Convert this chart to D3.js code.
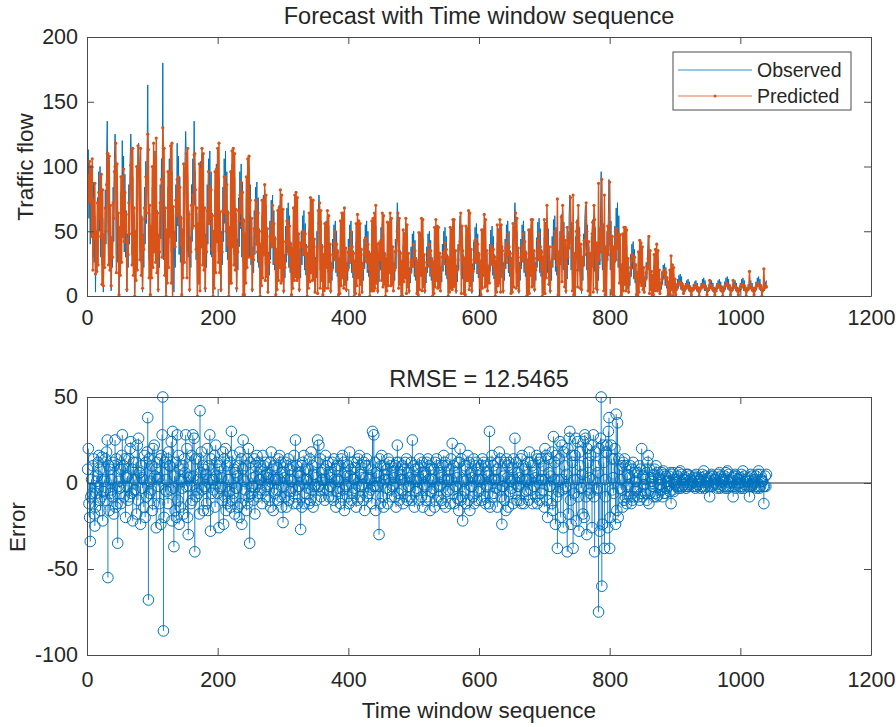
<!DOCTYPE html>
<html>
<head>
<meta charset="utf-8">
<script src="https://cdn.jsdelivr.net/npm/d3@7"></script>
<style>
  body { margin: 0; background: #fff; }
  text { font-family: "Liberation Sans", Arial, sans-serif; fill: #262626; }
</style>
</head>
<body>
<svg id="chart" width="896" height="727"></svg>
<script>
// observed traffic flow, one line per 12-step daily cycle (steps 1..1040)
var observed = [
  95,113,60,84,40,92,48,100,30,88,26,62,
  3,44,20,76,36,96,50,100,30,86,24,60,
  3,48,24,82,40,104,135,55,34,92,28,64,
  4,46,22,84,42,106,125,104,32,90,26,62,
  2,50,24,80,42,120,54,108,34,94,30,66,
  3,48,22,86,40,104,125,106,32,92,28,64,
  2,46,24,82,42,106,118,104,34,90,26,62,
  3,48,22,84,40,104,56,108,163,45,28,64,
  2,50,24,84,42,106,56,112,34,96,30,66,
  3,48,22,86,44,106,58,180,28,94,28,64,
  2,46,24,84,40,106,56,112,34,96,28,66,
  3,50,22,86,42,118,54,108,32,92,26,62,
  2,48,24,84,40,104,127,108,34,94,30,66,
  3,46,22,86,42,106,58,135,70,96,28,64,
  2,50,24,84,46,104,56,110,34,94,28,66,
  3,48,22,86,40,106,58,112,32,96,30,64,
  2,46,22,82,40,102,54,108,34,92,28,62,
  3,50,24,84,42,106,56,112,34,96,28,66,
  2,48,22,82,40,102,54,108,32,92,26,64,
  3,44,20,76,38,96,52,102,30,88,26,60,
  2,44,20,76,36,94,50,100,30,86,24,58,
  3,38,18,66,32,84,44,88,26,76,22,52,
  2,36,16,62,30,78,42,82,24,70,20,50,
  2,34,16,58,28,74,40,78,24,66,20,46,
  3,32,14,56,26,70,38,74,22,64,18,44,
  2,32,14,54,26,68,36,72,22,62,18,42,
  2,34,16,56,28,70,40,76,22,64,20,46,
  3,30,14,50,24,62,34,66,20,56,16,40,
  2,30,14,52,25,66,36,70,22,60,18,42,
  2,30,14,50,27,64,78,68,20,58,18,40,
  3,28,12,46,22,58,32,62,18,54,16,38,
  2,26,12,44,21,55,30,58,18,50,15,36,
  2,26,12,46,22,56,30,60,18,52,15,36,
  3,26,12,44,21,55,30,58,18,50,14,35,
  2,24,11,42,20,53,28,56,17,48,14,34,
  2,26,12,44,21,55,30,58,18,50,15,35,
  3,28,12,46,34,58,32,62,18,54,16,38,
  2,24,11,42,20,53,28,56,17,48,14,34,
  2,26,12,45,22,57,30,60,18,52,15,36,
  3,26,12,44,21,55,72,58,18,50,14,35,
  2,23,10,39,19,49,26,52,16,45,13,31,
  2,22,10,38,18,48,25,50,15,43,12,30,
  3,23,10,39,19,49,26,52,16,45,13,31,
  2,22,10,38,18,48,25,50,15,43,12,30,
  2,23,10,39,19,49,26,52,16,45,13,31,
  3,23,11,40,19,50,27,53,16,46,13,32,
  2,24,11,41,20,52,28,55,17,47,14,33,
  2,24,11,40,20,51,62,54,16,46,13,32,
  3,25,11,42,20,53,28,56,17,48,14,34,
  2,25,11,42,20,53,28,56,17,48,14,34,
  2,24,11,41,20,52,28,55,17,47,14,33,
  3,24,11,40,19,51,27,54,16,46,13,32,
  2,24,11,41,20,52,28,55,17,47,14,33,
  2,26,12,44,21,55,29,58,18,50,15,35,
  3,26,12,44,21,55,72,58,18,50,14,35,
  2,26,12,44,21,55,29,58,18,50,15,35,
  2,24,11,41,20,52,28,55,17,47,14,33,
  3,26,12,45,22,57,30,60,18,52,15,36,
  2,26,12,45,22,57,30,60,18,52,15,36,
  2,27,12,46,22,59,31,62,19,53,16,37,
  3,29,13,50,24,63,33,66,20,57,17,40,
  2,29,13,50,24,63,78,66,20,57,16,40,
  3,27,12,46,28,59,31,62,19,53,16,37,
  2,28,12,48,23,60,70,64,20,55,16,38,
  3,27,12,46,22,59,31,62,19,53,16,37,
  2,28,12,48,24,60,96,30,20,56,16,40,
  3,30,14,50,28,62,90,50,20,58,16,42,
  3,32,14,54,26,68,36,72,22,62,18,44,
  2,20,9,34,16,43,23,45,14,39,11,27,
  2,18,8,32,15,40,21,42,13,36,10,25,
  2,15,7,26,13,33,18,35,28,30,9,21,
  2,15,7,26,13,33,45,34,10,29,8,20,
  2,14,6,24,12,30,16,32,10,28,8,19,
  1,11,5,19,9,24,13,25,8,22,6,15,
  1,9,4,15,7,19,10,20,6,17,5,12,
  1,8,4,13,6,16,9,17,5,15,4,10,
  1,6,3,10,5,12,7,13,4,11,3,8,
  1,5,3,9,4,11,6,12,4,10,3,7,
  1,6,3,10,5,13,7,14,4,12,4,8,
  1,5,3,9,4,11,6,12,4,10,3,7,
  1,6,3,10,5,12,7,13,4,11,3,8,
  1,7,3,11,5,14,8,15,5,13,4,9,
  1,5,3,9,4,11,6,12,4,10,3,7,
  1,6,3,10,5,13,7,14,4,12,4,8,
  1,5,3,9,4,11,6,12,4,10,3,7,
  1,7,3,11,5,14,8,15,5,13,4,9,
  1,5,3,9,4,11,6,12
];

// forecast error (observed - predicted), same steps
var errors = [
  8,20,-12,-20,-34,-8,2,-6,10,14,-18,-25,
  -14,-6,1,4,12,16,-10,8,-16,-8,15,-22,
  -5,1,2,14,-10,18,25,-55,10,-16,8,-6,
  -4,2,-8,12,-18,10,25,-14,14,-12,-35,-2,
  1,-3,8,-12,16,28,8,10,-8,14,-20,3,
  -2,4,-10,14,-8,20,24,-6,8,-22,12,-4,
  2,-4,12,-18,22,-10,26,6,6,-24,10,3,
  -3,2,-14,16,-20,12,-8,18,38,-68,14,-6,
  1,-4,10,-16,20,-12,22,4,8,-26,12,2,
  -2,3,-12,14,-24,16,28,50,-86,-20,12,-4,
  2,-5,14,-12,18,10,10,-4,24,-22,30,-3,
  -37,4,-16,12,-20,28,-10,16,-24,8,-14,2,
  1,-3,10,-18,14,6,28,-2,20,-20,-30,3,
  -2,4,-12,16,-10,28,4,26,-40,14,-8,-4,
  2,-6,14,-18,42,6,18,-4,10,-16,8,-2,
  -3,5,-12,20,-16,10,2,28,-28,14,-6,2,
  2,-4,16,-14,22,4,12,-6,8,-26,10,-3,
  -2,3,-10,18,-24,14,-8,20,-16,10,-12,2,
  2,-5,12,-14,30,-10,16,-6,8,-18,6,-3,
  -3,4,-14,10,-20,18,-12,14,-24,8,25,2,
  1,-4,10,-16,14,-12,20,-8,-35,12,-6,-2,
  -2,3,-10,14,-18,10,4,16,-8,12,-6,2,
  2,-4,8,-12,16,4,10,-4,12,-8,5,-2,
  -1,3,-10,12,-14,18,2,8,-16,10,-6,2,
  2,-4,9,-10,14,2,16,-8,12,-14,6,-23,
  -2,3,-8,12,-14,10,2,14,-10,8,-5,2,
  1,-3,10,-12,16,-8,25,-4,10,-12,6,-2,
  -2,4,-27,10,-14,12,2,16,-12,8,-6,2,
  2,-3,8,-12,14,-10,18,-4,10,-14,5,-2,
  -1,3,-10,12,25,-2,22,-4,14,-8,6,2,
  2,-4,8,-10,16,2,10,-4,12,-8,5,-2,
  -2,3,-8,12,-10,14,2,8,-14,10,-5,2,
  1,-3,10,-12,14,-8,16,-4,12,-16,6,-1,
  -2,4,-8,10,-12,18,4,8,-10,12,-6,2,
  2,-3,9,-14,12,-10,14,-2,16,-8,5,-2,
  -1,3,-10,12,-16,10,3,14,-8,10,-6,2,
  3,-4,8,-12,30,-2,28,-2,12,-16,6,-2,
  -2,4,-30,14,-12,10,16,-8,10,-14,5,2,
  2,-3,8,-12,14,2,12,-4,10,-8,6,-2,
  -1,3,-8,10,-14,12,22,-6,12,-10,5,2,
  2,-4,10,-12,8,2,12,-8,14,-10,6,-2,
  -2,3,-8,12,-10,25,2,10,-14,8,-5,2,
  1,-3,9,-10,14,2,10,-8,12,-14,6,-1,
  -2,4,-10,12,-8,14,2,10,-16,8,-5,2,
  2,-3,8,-14,12,-10,14,-2,10,-8,6,-2,
  -1,3,-10,10,-12,16,2,12,-14,10,-5,2,
  2,-4,8,-12,14,2,23,-4,10,-12,6,-2,
  -2,3,-9,12,-16,12,20,-10,14,-8,-22,2,
  1,-4,10,-12,8,2,16,-10,12,-16,6,-2,
  -2,3,-8,14,-12,10,2,12,-10,8,-5,2,
  2,-3,10,-10,14,2,12,-8,10,-12,6,-2,
  -1,4,-12,30,-14,12,2,16,-8,10,-6,2,
  2,-3,8,-14,12,2,18,-4,14,-8,-24,-2,
  -2,4,-10,12,-16,14,3,10,-14,12,-5,2,
  1,-3,9,-12,14,2,26,-6,12,-10,6,-2,
  -2,3,-10,14,-12,16,2,10,-12,8,-5,2,
  2,-4,12,-10,18,2,12,-4,10,-12,6,-2,
  -2,3,-8,16,-12,14,2,12,-10,14,-6,2,
  2,-4,10,-14,20,2,16,-10,-20,14,6,-2,
  -2,4,-12,18,-16,27,2,12,-24,16,-8,-38,
  2,-5,14,24,-20,2,22,-4,-26,18,10,-3,
  -2,5,-40,20,-18,26,30,-10,-24,16,12,-38,
  2,-6,16,26,-22,2,24,-8,-28,18,10,-3,
  -3,5,-18,24,-20,28,26,-8,-30,20,12,-4,
  3,-6,16,22,-26,2,28,-8,-40,18,10,-4,
  -3,6,-75,20,-28,26,50,-60,-24,22,12,-38,
  2,-8,18,22,-26,30,38,-38,-20,22,14,-4,
  3,-6,14,20,-24,40,-16,35,-20,14,8,-3,
  2,-4,10,-14,12,-10,14,-8,10,-12,5,-2,
  -1,3,-8,10,-12,8,-10,12,-8,6,-4,1,
  1,-3,6,-8,10,-10,8,-6,20,-8,4,-1,
  -1,2,-6,8,-10,12,16,-12,8,-6,3,1,
  1,-2,5,-8,8,-6,10,-8,6,-7,3,-1,
  -1,2,-4,6,-8,7,-6,5,-6,4,-3,1,
  1,-2,4,-5,6,-12,5,-4,6,-5,2,-1,
  0,2,-2,4,-3,6,-2,7,-3,5,-2,2,
  -1,2,-2,3,-3,5,-2,5,-2,4,-1,2,
  0,1,-2,3,-2,4,-3,5,-2,3,-1,1,
  1,2,-3,3,-2,5,-2,7,-3,4,-2,2,
  0,1,-2,3,-8,4,-2,5,-2,4,-1,2,
  0,2,-1,3,-3,5,-2,6,-3,4,-1,2,
  1,2,-2,4,-3,6,-2,7,-3,5,-2,2,
  0,1,-2,3,-8,4,-2,5,-3,4,-1,2,
  0,2,-2,3,-3,5,-2,7,-3,4,-1,2,
  1,1,-2,3,-2,-8,-2,5,-2,4,-1,1,
  0,2,-2,4,-3,5,-2,7,-3,5,-2,2,
  1,1,-2,-12,-2,4,-2,5
];

var xTicks = [0, 200, 400, 600, 800, 1000, 1200];
var flowTicks = [0, 50, 100, 150, 200];
var errTicks = [-100, -50, 0, 50];
var seriesNames = ['Observed', 'Predicted'];
var rmse = '12.5465';

var blue = '#0072BD', orange = '#D95319', axisColor = '#4a4a4a';

// predicted = observed - error
var predicted = observed.map(function(v, i) { return v - errors[i]; });
var rows = observed.map(function(v, i) {
  return { step: i + 1, obs: v, pred: predicted[i], err: errors[i] };
});

var svg = d3.select('#chart');
svg.append('rect').attr('width', 896).attr('height', 727).attr('fill', '#fff');

var x = d3.scaleLinear().domain([0, 1200]).range([87, 871]);
var yFlow = d3.scaleLinear().domain([0, 200]).range([296, 37]);
var yErr = d3.scaleLinear().domain([-100, 50]).range([655, 397]);

var defs = svg.append('defs');
defs.append('clipPath').attr('id', 'clipTop')
  .append('rect').attr('x', 87).attr('y', 37).attr('width', 784).attr('height', 259);
defs.append('clipPath').attr('id', 'clipBot')
  .append('rect').attr('x', 87).attr('y', 397).attr('width', 784).attr('height', 258);

var plain = function(d) { return String(d); };

function drawFrame(y, yTicks, xPad) {
  var b = y.range()[0], t = y.range()[1];
  var g = svg.append('g');
  g.append('g').attr('transform', 'translate(0,' + b + ')')
    .call(d3.axisBottom(x).tickValues(xTicks).tickFormat(plain).tickSizeInner(-7).tickSizeOuter(0).tickPadding(xPad));
  g.append('g').attr('transform', 'translate(0,' + t + ')')
    .call(d3.axisTop(x).tickValues(xTicks).tickSizeInner(-7).tickSizeOuter(0).tickFormat(''));
  g.append('g').attr('transform', 'translate(87,0)')
    .call(d3.axisLeft(y).tickValues(yTicks).tickFormat(plain).tickSizeInner(-7).tickSizeOuter(0).tickPadding(9));
  g.append('g').attr('transform', 'translate(871,0)')
    .call(d3.axisRight(y).tickValues(yTicks).tickSizeInner(-7).tickSizeOuter(0).tickFormat(''));
  g.selectAll('.domain, .tick line').attr('stroke', axisColor).attr('stroke-width', 1);
  g.selectAll('.tick text').attr('font-size', 21.5).attr('font-family', '"Liberation Sans", Arial, sans-serif').attr('fill', '#262626');
  return g;
}

// ---- top panel: observed vs predicted
var topPlot = svg.append('g').attr('clip-path', 'url(#clipTop)');
var flowLine = function(key) {
  return d3.line().x(function(d) { return x(d.step); }).y(function(d) { return yFlow(d[key]); });
};
topPlot.append('path').datum(rows).attr('d', flowLine('obs'))
  .attr('fill', 'none').attr('stroke', blue).attr('stroke-width', 1);
topPlot.append('path').datum(rows).attr('d', flowLine('pred'))
  .attr('fill', 'none').attr('stroke', orange).attr('stroke-width', 1.5);
topPlot.selectAll('.dot').data(rows).enter().append('circle')
  .attr('cx', function(d) { return x(d.step); })
  .attr('cy', function(d) { return yFlow(d.pred); })
  .attr('r', 1.6).attr('fill', orange);

drawFrame(yFlow, flowTicks, 14);

svg.append('text').attr('x', 479).attr('y', 24).attr('text-anchor', 'middle')
  .attr('font-size', 23.5).text('Forecast with Time window sequence');
svg.append('text').attr('transform', 'translate(33,167) rotate(-90)').attr('text-anchor', 'middle')
  .attr('font-size', 22.5).text('Traffic flow');

// legend
var leg = svg.append('g');
leg.append('rect').attr('x', 673).attr('y', 52).attr('width', 178).attr('height', 58)
  .attr('fill', '#fff').attr('stroke', axisColor).attr('stroke-width', 1);
seriesNames.forEach(function(name, i) {
  var ly = 70 + i * 26;
  leg.append('line').attr('x1', 678).attr('x2', 752).attr('y1', ly).attr('y2', ly)
    .attr('stroke', i === 0 ? blue : orange).attr('stroke-width', 0.8);
  if (i === 1) leg.append('circle').attr('cx', 715).attr('cy', ly).attr('r', 1.5).attr('fill', orange);
  leg.append('text').attr('x', 757).attr('y', ly + 7).attr('font-size', 19.5).text(name);
});

// ---- bottom panel: error stems
var botPlot = svg.append('g').attr('clip-path', 'url(#clipBot)');
botPlot.append('line').attr('x1', x(0)).attr('x2', x(1200)).attr('y1', yErr(0)).attr('y2', yErr(0))
  .attr('stroke', '#262626').attr('stroke-width', 1);
botPlot.selectAll('.stem').data(rows).enter().append('line')
  .attr('x1', function(d) { return x(d.step); }).attr('x2', function(d) { return x(d.step); })
  .attr('y1', yErr(0)).attr('y2', function(d) { return yErr(d.err); })
  .attr('stroke', blue).attr('stroke-width', 0.9);
svg.append('g').selectAll('.mark').data(rows).enter().append('circle')
  .attr('cx', function(d) { return x(d.step); })
  .attr('cy', function(d) { return yErr(d.err); })
  .attr('r', 5.3).attr('fill', 'none').attr('stroke', blue).attr('stroke-width', 1);

drawFrame(yErr, errTicks, 17);

svg.append('text').attr('x', 479).attr('y', 387).attr('text-anchor', 'middle')
  .attr('font-size', 23.5).text('RMSE = ' + rmse);
svg.append('text').attr('transform', 'translate(25,527) rotate(-90)').attr('text-anchor', 'middle')
  .attr('font-size', 22.5).text('Error');
svg.append('text').attr('x', 479).attr('y', 718).attr('text-anchor', 'middle')
  .attr('font-size', 22.5).text('Time window sequence');
</script>
</body>
</html>
